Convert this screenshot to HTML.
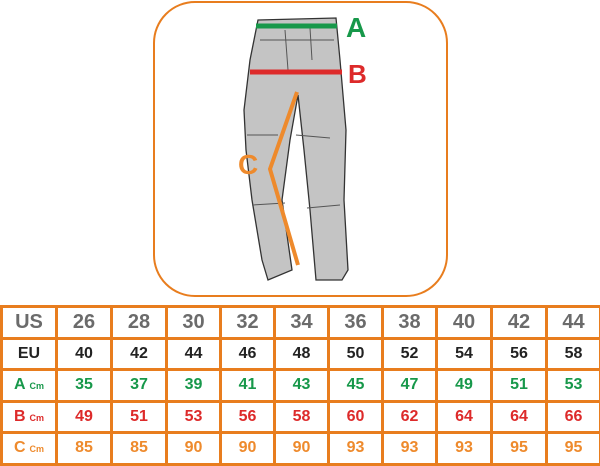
<!DOCTYPE html>
<html><head><style>
body{margin:0;width:600px;height:466px;background:#fff;overflow:hidden;position:relative;font-family:"Liberation Sans",sans-serif}
.box{position:absolute;left:153px;top:1px;width:291px;height:292px;border:2.5px solid #e87d1e;border-radius:42px}
table{position:absolute;left:0;top:305px;border-collapse:collapse;width:599px;table-layout:fixed}
td{border:3px solid #e87d1e;height:28px;padding:0;text-align:center;font-weight:bold;font-size:16px;box-sizing:border-box}
tr{height:31.5px}
tr.us td{color:#6b6b6b;font-size:20px}
tr.eu td{color:#222}
tr.a td{color:#17984a}
tr.b td{color:#dd2a2a}
tr.c td{color:#ee8a2c}
small{font-size:9px;margin-left:4px}
</style></head><body>
<div class="box"></div>
<svg style="position:absolute;left:0;top:0" width="600" height="300">
<g fill="#c4c4c4" stroke="#333" stroke-width="1.3">
<path d="M258,20 L336,18 L340,60 L346,130 L344,200 L348,270 L342,280 L316,280 L310,210 L304,150 L298,95 L290,140 L282,200 L292,270 L268,280 L262,260 L252,200 L246,150 L244,110 L250,60 Z"/>
</g>
<g fill="none" stroke="#555" stroke-width="1">
<path d="M247,135 L278,135 M296,135 L330,138 M252,205 L285,203 M307,208 L340,205 M260,40 L334,40 M285,30 L288,70 M310,28 L312,60"/>
</g>
<line x1="256" y1="26" x2="337" y2="26" stroke="#17984a" stroke-width="5"/>
<line x1="250" y1="72" x2="342" y2="72" stroke="#dd2a2a" stroke-width="5"/>
<polyline points="297,92 270,169 298,265" fill="none" stroke="#ee8a2c" stroke-width="4"/>
<text x="346" y="37" font-size="28" font-weight="bold" fill="#17984a" font-family="Liberation Sans">A</text>
<text x="348" y="83" font-size="26" font-weight="bold" fill="#dd2a2a" font-family="Liberation Sans">B</text>
<text x="238" y="174" font-size="28" font-weight="bold" fill="#ee8a2c" font-family="Liberation Sans">C</text>
</svg>
<table>
<colgroup><col style="width:55px"><col style="width:55px"><col style="width:55px"><col style="width:54px"><col style="width:54px"><col style="width:54px"><col style="width:54px"><col style="width:54px"><col style="width:55px"><col style="width:55px"><col style="width:54px"></colgroup>
<tr class="us"><td>US</td><td>26</td><td>28</td><td>30</td><td>32</td><td>34</td><td>36</td><td>38</td><td>40</td><td>42</td><td>44</td></tr>
<tr class="eu"><td>EU</td><td>40</td><td>42</td><td>44</td><td>46</td><td>48</td><td>50</td><td>52</td><td>54</td><td>56</td><td>58</td></tr>
<tr class="a"><td>A<small>Cm</small></td><td>35</td><td>37</td><td>39</td><td>41</td><td>43</td><td>45</td><td>47</td><td>49</td><td>51</td><td>53</td></tr>
<tr class="b"><td>B<small>Cm</small></td><td>49</td><td>51</td><td>53</td><td>56</td><td>58</td><td>60</td><td>62</td><td>64</td><td>64</td><td>66</td></tr>
<tr class="c"><td>C<small>Cm</small></td><td>85</td><td>85</td><td>90</td><td>90</td><td>90</td><td>93</td><td>93</td><td>93</td><td>95</td><td>95</td></tr>
</table>
</body></html>
